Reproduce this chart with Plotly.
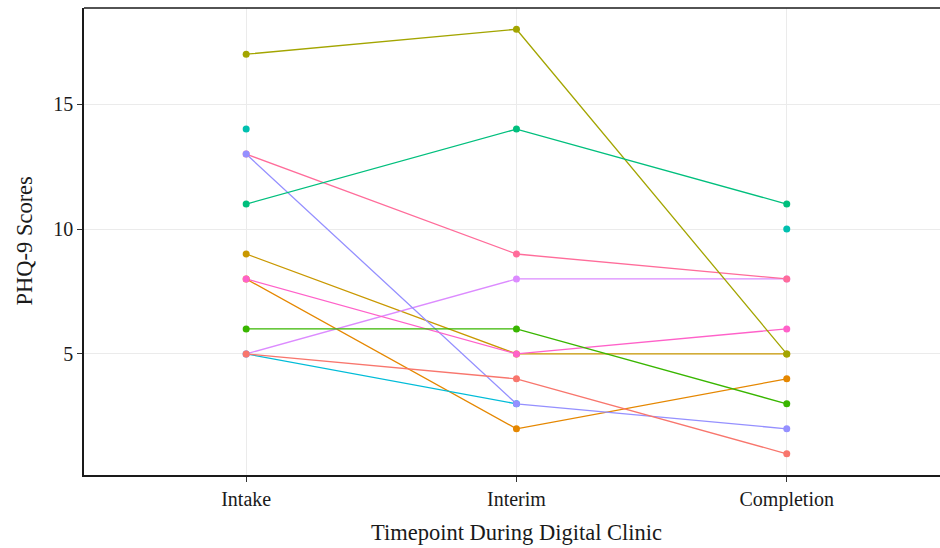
import plotly.graph_objects as go

timepoints = ["Intake", "Interim", "Completion"]

participants = ["P01", "P02", "P03", "P04", "P05", "P06", "P07", "P08", "P09", "P10", "P11", "P12"]
colors = ["#F8766D", "#E58700", "#C99800", "#A3A500", "#39B600", "#00BF7D",
          "#00C0AF", "#00BCD8", "#9590FF", "#DC8BFF", "#FF61C9", "#FF6C9A"]
scores = {
    "P01": [5, 4, 1],
    "P02": [8, 2, 4],
    "P03": [9, 5, 5],
    "P04": [17, 18, 5],
    "P05": [6, 6, 3],
    "P06": [11, 14, 11],
    "P07": [14, None, 10],
    "P08": [5, 3, None],
    "P09": [13, 3, 2],
    "P10": [5, 8, 8],
    "P11": [8, 5, 6],
    "P12": [13, 9, 8],
}
draw_order = ["P03", "P02", "P08", "P10", "P12", "P09", "P11", "P04", "P05", "P06", "P07", "P01"]

y_ticks = [5, 10, 15]

xpos = {t: i + 1 for i, t in enumerate(timepoints)}
xs = [xpos[t] for t in timepoints]

fig = go.Figure()
cmap = dict(zip(participants, colors))
# lines first
for p in draw_order:
    fig.add_trace(go.Scatter(x=xs, y=scores[p], mode="lines",
                             line=dict(color=cmap[p], width=1.3),
                             connectgaps=False, showlegend=False, hoverinfo="skip"))
# then points
for p in draw_order:
    fig.add_trace(go.Scatter(x=xs, y=scores[p], mode="markers",
                             marker=dict(color=cmap[p], size=7),
                             showlegend=False, name=p))

font_family = "Liberation Serif, Times New Roman, serif"

fig.update_layout(
    width=940, height=548,
    margin=dict(l=84, r=0, t=8, b=73),
    paper_bgcolor="white", plot_bgcolor="white",
    font=dict(family=font_family, size=20, color="#222222"),
    xaxis=dict(
        range=[0.4, 3.567],
        tickmode="array", tickvals=xs, ticktext=timepoints,
        showgrid=True, gridcolor="#EBEBEB", gridwidth=1,
        zeroline=False,
        showline=True, linecolor="#1a1a1a", linewidth=1.5, mirror=False,
        ticks="outside", ticklen=5, tickcolor="#333333", tickwidth=1.2,
        tickfont=dict(family=font_family, size=20, color="#1a1a1a"),
    ),
    yaxis=dict(
        range=[0.15, 18.85],
        tickmode="array", tickvals=y_ticks, ticktext=[str(v) for v in y_ticks],
        showgrid=True, gridcolor="#EBEBEB", gridwidth=1,
        zeroline=False,
        showline=True, linecolor="#1a1a1a", linewidth=1.5, mirror=False,
        ticks="outside", ticklen=5, tickcolor="#333333", tickwidth=1.2,
        tickfont=dict(family=font_family, size=20, color="#1a1a1a"),
    ),
    shapes=[dict(type="line", xref="paper", yref="paper", x0=0, x1=1, y0=1, y1=1,
                 line=dict(color="#1a1a1a", width=1.5))],
    annotations=[
        dict(text="Timepoint During Digital Clinic", xref="paper", yref="paper",
             x=(516 - 84) / 856, y=-(532 - 475) / 467, xanchor="center", yanchor="middle",
             showarrow=False, font=dict(family=font_family, size=22.5, color="#1a1a1a")),
        dict(text="PHQ-9 Scores", xref="paper", yref="paper",
             x=-(84 - 24) / 856, y=0.5, xanchor="center", yanchor="middle", textangle=-90,
             showarrow=False, font=dict(family=font_family, size=22.5, color="#1a1a1a")),
    ],
)

fig.write_html("out.html")
